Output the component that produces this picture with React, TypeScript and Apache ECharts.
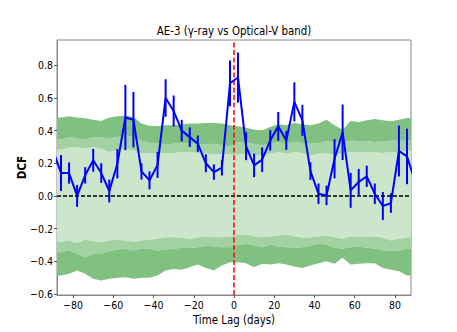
import React, { useEffect, useRef } from "react";
import * as echarts from "echarts";

const FONT = "'DejaVu Sans Condensed', 'DejaVu Sans', sans-serif";

const titleText = "AE-3 (γ-ray vs Optical-V band)";
const xName = "Time Lag (days)";
const yName = "DCF";

const lags = [
  -90, -86, -82, -78, -74, -70, -66, -62, -58, -54, -50, -46, -42, -38, -34, -30, -26, -22, -18, -14, -10, -6, -2,
  2, 6, 10, 14, 18, 22, 26, 30, 34, 38, 42, 46, 50, 54, 58, 62, 66, 70, 74, 78, 82, 86, 90,
];

const dcf = [
  0.28, 0.14, 0.14, 0.0, 0.126, 0.218, 0.14, 0.03, 0.197, 0.48, 0.467, 0.15, 0.095, 0.19, 0.6, 0.52, 0.4, 0.36, 0.32, 0.2, 0.146, 0.173, 0.69,
  0.725, 0.304, 0.187, 0.222, 0.34, 0.426, 0.34, 0.576, 0.463, 0.152, 0.013, 0.003, 0.228, 0.39, 0.034, 0.085, 0.12, 0.013, -0.062, -0.044, 0.275, 0.242, 0.09,
];

const dcfErr = [
  0.1, 0.11, 0.065, 0.067, 0.05, 0.07, 0.06, 0.07, 0.09, 0.2, 0.17, 0.05, 0.055, 0.08, 0.115, 0.095, 0.066, 0.06, 0.05, 0.055, 0.047, 0.048, 0.14,
  0.153, 0.085, 0.072, 0.075, 0.063, 0.088, 0.058, 0.12, 0.095, 0.054, 0.063, 0.06, 0.12, 0.17, 0.107, 0.08, 0.065, 0.063, 0.086, 0.06, 0.156, 0.17, 0.1,
];

// confidence band boundaries
const upper3 = [
  0.48, 0.48, 0.488, 0.48, 0.475, 0.467, 0.459, 0.48, 0.488, 0.492, 0.484, 0.443, 0.43, 0.426, 0.433, 0.433, 0.439, 0.443, 0.443, 0.447, 0.447, 0.443, 0.433,
  0.426, 0.418, 0.406, 0.402, 0.422, 0.439, 0.433, 0.447, 0.439, 0.433, 0.443, 0.467, 0.433, 0.406, 0.459, 0.453, 0.463, 0.471, 0.463, 0.457, 0.467, 0.477, 0.473,
];
const upper2 = [
  0.345, 0.345, 0.361, 0.351, 0.345, 0.361, 0.361, 0.351, 0.361, 0.371, 0.361, 0.34, 0.325, 0.324, 0.316, 0.32, 0.324, 0.32, 0.32, 0.316, 0.32, 0.31, 0.304,
  0.33, 0.33, 0.316, 0.31, 0.32, 0.33, 0.32, 0.33, 0.324, 0.32, 0.324, 0.335, 0.33, 0.33, 0.34, 0.336, 0.336, 0.33, 0.334, 0.34, 0.336, 0.34, 0.345,
];
const upper1 = [
  0.283, 0.283, 0.296, 0.3, 0.289, 0.3, 0.289, 0.269, 0.279, 0.289, 0.279, 0.263, 0.259, 0.263, 0.259, 0.263, 0.269, 0.269, 0.263, 0.259, 0.255, 0.255, 0.255,
  0.252, 0.259, 0.248, 0.248, 0.259, 0.269, 0.259, 0.269, 0.263, 0.248, 0.259, 0.259, 0.255, 0.259, 0.269, 0.269, 0.269, 0.267, 0.263, 0.269, 0.263, 0.279, 0.283,
];
const lower1 = [
  -0.283, -0.283, -0.273, -0.289, -0.269, -0.277, -0.283, -0.273, -0.269, -0.273, -0.283, -0.273, -0.269, -0.263, -0.253, -0.253, -0.257, -0.263, -0.257, -0.248, -0.253, -0.253, -0.248,
  -0.238, -0.236, -0.248, -0.253, -0.248, -0.242, -0.236, -0.248, -0.257, -0.253, -0.248, -0.242, -0.253, -0.263, -0.248, -0.253, -0.248, -0.248, -0.257, -0.273, -0.263, -0.257, -0.257,
];
const lower2 = [
  -0.345, -0.345, -0.334, -0.355, -0.375, -0.355, -0.355, -0.338, -0.33, -0.324, -0.334, -0.324, -0.324, -0.334, -0.33, -0.324, -0.318, -0.318, -0.314, -0.304, -0.31, -0.314, -0.314,
  -0.3, -0.293, -0.304, -0.314, -0.298, -0.31, -0.314, -0.318, -0.314, -0.304, -0.293, -0.298, -0.318, -0.324, -0.314, -0.31, -0.318, -0.324, -0.334, -0.338, -0.334, -0.324, -0.318,
];
const lower3 = [
  -0.488, -0.488, -0.477, -0.457, -0.477, -0.508, -0.518, -0.508, -0.502, -0.498, -0.508, -0.502, -0.502, -0.488, -0.457, -0.447, -0.453, -0.437, -0.42, -0.441, -0.457, -0.426, -0.406,
  -0.406, -0.412, -0.437, -0.416, -0.42, -0.412, -0.42, -0.433, -0.441, -0.426, -0.412, -0.4, -0.416, -0.379, -0.42, -0.416, -0.412, -0.412, -0.441, -0.453, -0.461, -0.488, -0.488,
];

const xTicks = [-80, -60, -40, -20, 0, 20, 40, 60, 80];
const xTickLabels = ["−80", "−60", "−40", "−20", "0", "20", "40", "60", "80"];
const yTicks = [-0.6, -0.4, -0.2, 0, 0.2, 0.4, 0.6, 0.8];
const yTickLabels = ["−0.6", "−0.4", "−0.2", "0.0", "0.2", "0.4", "0.6", "0.8"];

const COLOR_LIGHT = "#cce6cc";
const COLOR_MED = "#a2d1a2";
const COLOR_DARK = "#80c080";

const bands = [
  { top: upper1, bottom: lower1, color: COLOR_LIGHT },
  { top: upper2, bottom: upper1, color: COLOR_MED },
  { top: lower1, bottom: lower2, color: COLOR_MED },
  { top: upper3, bottom: upper2, color: COLOR_DARK },
  { top: lower2, bottom: lower3, color: COLOR_DARK },
];

function lookup(ticks: number[], labels: string[], v: number) {
  const i = ticks.findIndex((t) => Math.abs(t - v) < 1e-6);
  return i >= 0 ? labels[i] : "";
}

export default function App() {
  const ref = useRef<HTMLDivElement>(null);
  useEffect(() => {
    if (!ref.current) return;
    const chart = echarts.init(ref.current, null, { renderer: "svg" });
    const option: any = {
      animation: false,
      backgroundColor: "#ffffff",
      textStyle: { fontFamily: FONT },
      grid: {
        left: 57,
        top: 40,
        width: 354,
        height: 255,
        show: true,
        borderColor: "#888",
        borderWidth: 1,
        backgroundColor: "transparent",
      },
      graphic: [
        {
          type: "text",
          x: 234,
          y: 31,
          silent: true,
          style: {
            text: titleText,
            fontFamily: FONT,
            fontSize: 11.4,
            fill: "#000",
            align: "center",
            verticalAlign: "middle",
          },
        },
      ],
      xAxis: {
        type: "value",
        min: -88,
        max: 88,
        name: xName,
        nameLocation: "middle",
        nameGap: 19,
        nameMoveOverlap: false,
        nameTextStyle: { fontFamily: FONT, fontSize: 11.4, color: "#000" },
        axisLine: { show: true, onZero: false, lineStyle: { color: "#888", width: 1 } },
        axisTick: { show: true, customValues: xTicks, length: 3, lineStyle: { color: "#555" } },
        axisLabel: {
          customValues: xTicks,
          formatter: (v: number) => lookup(xTicks, xTickLabels, v),
          fontFamily: FONT,
          fontSize: 10.5,
          color: "#000",
          margin: 4,
        },
        splitLine: { show: false },
      },
      yAxis: {
        type: "value",
        min: -0.607,
        max: 0.955,
        name: yName,
        nameLocation: "middle",
        nameGap: 29,
        nameMoveOverlap: false,
        nameTextStyle: { fontFamily: FONT, fontSize: 11.5, fontWeight: "bold", color: "#000" },
        axisLine: { show: true, onZero: false, lineStyle: { color: "#888", width: 1 } },
        axisTick: { show: true, customValues: yTicks, length: 3, lineStyle: { color: "#555" } },
        axisLabel: {
          customValues: yTicks,
          formatter: (v: number) => lookup(yTicks, yTickLabels, v),
          fontFamily: FONT,
          fontSize: 10.5,
          color: "#000",
          margin: 4,
        },
        splitLine: { show: false },
      },
      series: [
        {
          type: "custom",
          z: 1,
          silent: true,
          clip: true,
          data: bands.map(() => [0, 0]),
          renderItem: (params: any, api: any) => {
            const b = bands[params.dataIndex];
            const pts: number[][] = [];
            for (let i = 0; i < lags.length; i++) pts.push(api.coord([lags[i], b.top[i]]));
            for (let i = lags.length - 1; i >= 0; i--) pts.push(api.coord([lags[i], b.bottom[i]]));
            return { type: "polygon", shape: { points: pts }, style: { fill: b.color } };
          },
        },
        {
          type: "custom",
          z: 4,
          silent: true,
          clip: true,
          data: lags.map((l, i) => [l, dcf[i] - dcfErr[i], dcf[i] + dcfErr[i]]),
          encode: { x: 0, y: [1, 2] },
          renderItem: (params: any, api: any) => {
            const p1 = api.coord([api.value(0), api.value(1)]);
            const p2 = api.coord([api.value(0), api.value(2)]);
            return {
              type: "line",
              shape: { x1: p1[0], y1: p1[1], x2: p2[0], y2: p2[1] },
              style: { stroke: "#0000ff", lineWidth: 2 },
            };
          },
        },
        {
          type: "line",
          z: 5,
          silent: true,
          showSymbol: false,
          symbol: "none",
          data: lags.map((l, i) => [l, dcf[i]]),
          lineStyle: { color: "#0000ff", width: 2 },
          emphasis: { disabled: true },
          markLine: {
            silent: true,
            symbol: ["none", "none"],
            label: { show: false },
            animation: false,
            data: [
              { yAxis: 0, lineStyle: { color: "#000", type: [4, 2], width: 1.5 } },
              { xAxis: 0, lineStyle: { color: "#ff0000", type: [5, 2.5], width: 1.5 } },
            ],
          },
        },
      ],
    };
    chart.setOption(option);
    return () => chart.dispose();
  }, []);
  return (
    <div
      ref={ref}
      style={{ position: "absolute", left: 0, top: 0, width: 457, height: 332 }}
    />
  );
}
